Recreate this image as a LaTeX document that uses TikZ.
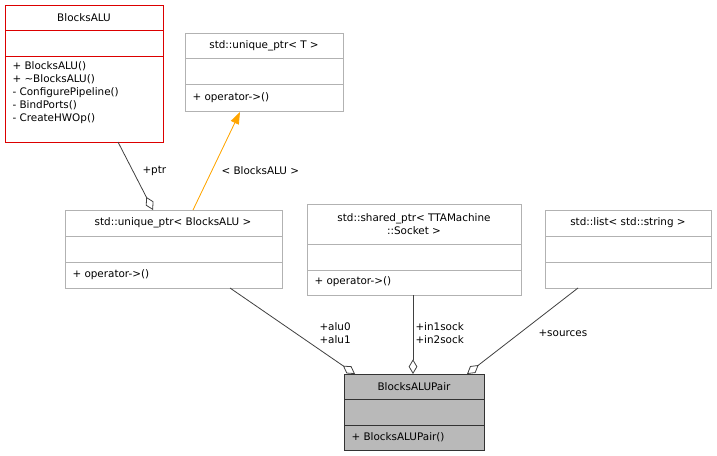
\documentclass[tikz,border=0pt]{standalone}
\usepackage{fontspec}
\setmainfont{DejaVu Sans}
\usetikzlibrary{arrows.meta}
\definecolor{edgeorange}{RGB}{255,165,0}
\definecolor{boxred}{RGB}{220,0,0}
\tikzset{every picture/.style={line width=0.75pt}}
\tikzset{
  box/.style={draw=gray!60, fill=white, inner sep=0pt, anchor=north west},
  txt/.style={inner sep=0.75pt, font=\fontsize{7.8}{9.8}\selectfont, align=left},
  memb/.style={-{Diamond[open,length=11pt,width=6.5pt]}, draw=black!75, line width=0.6pt},
  inh/.style={-{Triangle[length=9pt,width=6.5pt]}, draw=edgeorange, fill=edgeorange, line width=0.6pt}
}
\begin{document}
\begin{tikzpicture}[x=0.75pt,y=0.75pt,yscale=-1,xscale=1]
\useasboundingbox (0,0) rectangle (717,456);

%BlocksALU
\node [box, draw=boxred, minimum width=158*0.75pt, minimum height=137*0.75pt] (alu) at (5,5) {};
\draw [boxred] (5,31) -- (163,31) (5,57) -- (163,57);
\draw (84,18) node [txt] {BlocksALU};
\draw (11,60) node [txt, anchor=north west] {+ BlocksALU()\\+ \textasciitilde BlocksALU()\\- ConfigurePipeline()\\- BindPorts()\\- CreateHWOp()};

%unique_ptr T
\node [box, minimum width=158*0.75pt, minimum height=78*0.75pt] (uptrT) at (185,33) {};
\draw [gray!60] (185,59) -- (343,59) (185,85) -- (343,85);
\draw (264,46) node [txt] {std::unique\_ptr< T >};
\draw (191,98) node [txt, anchor=west] {+ operator->()};

%unique_ptr BlocksALU
\node [box, minimum width=217*0.75pt, minimum height=78*0.75pt] (uptrAlu) at (65,210) {};
\draw [gray!60] (65,236) -- (282,236) (65,262) -- (282,262);
\draw (173,223) node [txt] {std::unique\_ptr< BlocksALU >};
\draw (71,275) node [txt, anchor=west] {+ operator->()};

%shared_ptr
\node [box, minimum width=214*0.75pt, minimum height=91*0.75pt] (sptr) at (307,204) {};
\draw [gray!60] (307,244) -- (521,244) (307,270) -- (521,270);
\draw (414,224) node [txt, align=center] {std::shared\_ptr< TTAMachine\\::Socket >};
\draw (313,282) node [txt, anchor=west] {+ operator->()};

%list
\node [box, minimum width=166*0.75pt, minimum height=78*0.75pt] (lst) at (545,210) {};
\draw [gray!60] (545,236) -- (711,236) (545,262) -- (711,262);
\draw (628,223) node [txt] {std::list< std::string >};

%BlocksALUPair
\node [box, draw=black!80, fill=gray!55, minimum width=140*0.75pt, minimum height=76*0.75pt] (pair) at (344,374) {};
\draw [black!80] (344,399) -- (484,399) (344,425) -- (484,425);
\draw (414,387) node [txt] {BlocksALUPair};
\draw (350,437) node [txt, anchor=west] {+ BlocksALUPair()};

%connectors
\coordinate (a1) at (118,142); \coordinate (a2) at (153,210);
\draw [memb] (a1) -- (a2);
\draw (141,171) node [txt, anchor=west] {+ptr};
\coordinate (t1) at (193,210); \coordinate (t2) at (240,112);
\draw [inh] (t1) -- (t2);
\draw (220,171) node [txt, anchor=west] {< BlocksALU >};
\coordinate (p1) at (230,288); \coordinate (p2) at (355,374);
\draw [memb] (p1) -- (p2);
\draw (318,333) node [txt, anchor=west] {+alu0\\+alu1};
\coordinate (s1) at (413,295); \coordinate (s2) at (413,374);
\draw [memb] (s1) -- (s2);
\draw (414,333) node [txt, anchor=west] {+in1sock\\+in2sock};
\coordinate (l1) at (578,288); \coordinate (l2) at (467,374);
\draw [memb] (l1) -- (l2);
\draw (537,333) node [txt, anchor=west] {+sources};
\end{tikzpicture}
\end{document}
